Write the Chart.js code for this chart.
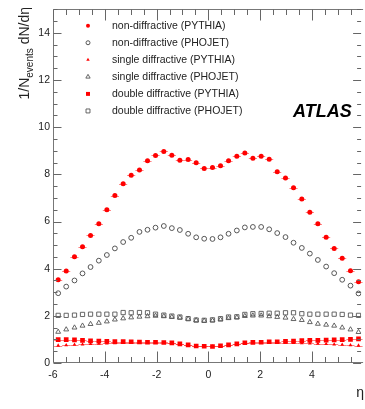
<!DOCTYPE html>
<html><head><meta charset="utf-8">
<script src="https://cdn.jsdelivr.net/npm/chart.js@4/dist/chart.umd.min.js"></script>
<style>html,body{margin:0;padding:0;background:#fff;}#wrap{width:365px;height:409px;}</style>
</head><body><div id="wrap"><canvas id="c" width="365" height="409"></canvas></div>
<script>
// ---- data ----
const eta = [-5.80,-5.49,-5.17,-4.86,-4.55,-4.23,-3.92,-3.61,-3.29,-2.98,-2.66,-2.35,-2.04,-1.72,-1.41,-1.10,-0.78,-0.47,-0.16,
              0.16,0.47,0.78,1.10,1.41,1.72,2.04,2.35,2.66,2.98,3.29,3.61,3.92,4.23,4.55,4.86,5.17,5.49,5.80];
const binHalfWidth = 0.157;
const ndPythia = [3.53,3.90,4.51,4.93,5.41,5.91,6.50,7.10,7.60,7.96,8.19,8.58,8.80,8.97,8.81,8.60,8.63,8.49,8.25,
                  8.29,8.36,8.58,8.77,8.91,8.68,8.77,8.64,8.11,7.85,7.43,6.96,6.39,5.91,5.33,4.86,4.44,3.91,3.45];
const ndPhojet = [2.96,3.24,3.50,3.80,4.07,4.34,4.58,4.86,5.13,5.31,5.56,5.65,5.74,5.81,5.72,5.64,5.48,5.33,5.27,
                  5.26,5.33,5.48,5.62,5.75,5.77,5.77,5.67,5.51,5.34,5.10,4.88,4.64,4.37,4.09,3.81,3.53,3.28,2.95];
const sdPythia = [0.74,0.76,0.78,0.79,0.81,0.82,0.83,0.84,0.85,0.86,0.86,0.86,0.86,0.85,0.83,0.80,0.76,0.72,0.70,
                  0.70,0.72,0.76,0.80,0.83,0.85,0.86,0.86,0.86,0.86,0.85,0.84,0.83,0.82,0.81,0.79,0.78,0.76,0.74];
const sdPhojet = [1.32,1.42,1.50,1.58,1.65,1.70,1.76,1.84,1.89,1.93,1.96,1.98,2.00,1.98,1.95,1.92,1.87,1.81,1.79,
                  1.80,1.84,1.90,1.93,1.99,2.01,2.01,1.98,1.95,1.92,1.86,1.82,1.73,1.66,1.62,1.58,1.50,1.42,1.31];
const ddPythia = [0.99,0.99,0.98,0.96,0.94,0.93,0.92,0.91,0.91,0.90,0.89,0.88,0.88,0.87,0.85,0.81,0.77,0.72,0.71,
                  0.70,0.73,0.77,0.81,0.86,0.875,0.88,0.90,0.90,0.92,0.93,0.95,0.96,0.96,0.97,0.98,0.99,1.00,1.02];
const ddPhojet = [2.02,2.02,2.03,2.06,2.07,2.07,2.07,2.07,2.14,2.13,2.14,2.13,2.07,2.03,1.99,1.95,1.88,1.82,1.81,
                  1.83,1.88,1.95,1.96,2.06,2.09,2.10,2.11,2.11,2.13,2.13,2.09,2.07,2.07,2.07,2.07,2.06,2.03,2.02];
const seriesNames = ['non-diffractive (PYTHIA)','non-diffractive (PHOJET)','single diffractive (PYTHIA)',
                     'single diffractive (PHOJET)','double diffractive (PYTHIA)','double diffractive (PHOJET)'];
const xTickLabels = [-6,-4,-2,0,2,4];
const yTickLabels = [0,2,4,6,8,10,12,14];
const xTitle = 'η';
const yTitleParts = ['1/N', 'events', ' dN/dη'];
const experiment = 'ATLAS';

// ---- styling ----
const FONT = "'Liberation Sans', Arial, Helvetica, sans-serif";
const RED = '#ff0000', GREY = '#555555';
const pts = arr => arr.map((v, i) => ({x: eta[i], y: v}));
const styles = [
  {pointStyle:'circle',   radius:2.5, legendRadius:2.0, fill:RED, stroke:RED, bw:0, xerr:true},
  {pointStyle:'circle',   radius:2.4, legendRadius:2.0, fill:'rgba(0,0,0,0)', stroke:GREY, bw:1, xerr:false},
  {pointStyle:'triangle', radius:2.2, legendRadius:2.0, fill:RED, stroke:RED, bw:0, xerr:true},
  {pointStyle:'triangle', radius:2.8, legendRadius:2.5, fill:'rgba(0,0,0,0)', stroke:GREY, bw:0.9, xerr:false},
  {pointStyle:'rect',     radius:3.3, legendRadius:2.8, fill:RED, stroke:RED, bw:0, xerr:true},
  {pointStyle:'rect',     radius:3.0, legendRadius:2.8, fill:'rgba(0,0,0,0)', stroke:GREY, bw:0.9, xerr:false},
];
const seriesData = [ndPythia, ndPhojet, sdPythia, sdPhojet, ddPythia, ddPhojet];
const datasets = seriesData.map((arr, k) => ({
  label: seriesNames[k], data: pts(arr), showLine: false,
  pointStyle: styles[k].pointStyle, pointRadius: styles[k].radius, pointHoverRadius: styles[k].radius,
  backgroundColor: styles[k].fill, borderColor: styles[k].stroke, pointBorderWidth: styles[k].bw,
  xerr: styles[k].xerr, order: 6 - k
}));

const decor = {
  id: 'decor',
  beforeDatasetsDraw(chart) {
    const {ctx, scales: {x, y}} = chart;
    ctx.save();
    ctx.strokeStyle = 'rgba(255,40,40,0.6)';
    ctx.lineWidth = 1;
    chart.data.datasets.forEach(ds => {
      if (!ds.xerr) return;
      ds.data.forEach(p => {
        const py = Math.round(y.getPixelForValue(p.y)) + 0.5;
        ctx.beginPath();
        ctx.moveTo(x.getPixelForValue(p.x - binHalfWidth), py);
        ctx.lineTo(x.getPixelForValue(p.x + binHalfWidth), py);
        ctx.stroke();
      });
    });
    ctx.restore();
  },
  afterDraw(chart) {
    const {ctx, chartArea: a, scales: {x, y}} = chart;
    ctx.save();
    // frame
    ctx.strokeStyle = '#777'; ctx.lineWidth = 1;
    const L = Math.round(a.left) + 0.5, B = Math.round(a.bottom) - 0.5, T = Math.round(a.top) + 0.5, R = Math.round(a.right) - 0.5;
    ctx.beginPath();
    ctx.moveTo(L, T); ctx.lineTo(L, B); ctx.lineTo(a.right + 2, B);
    ctx.moveTo(L, T); ctx.lineTo(a.right + 2, T);
    ctx.stroke();
    // ticks (inward)
    ctx.strokeStyle = '#666';
    ctx.beginPath();
    for (let v = x.min; v <= x.max + 1e-9; v += 0.5) {
      const px = Math.round(x.getPixelForValue(v)) + 0.5;
      const major = Math.abs(v % 2) < 1e-9;
      const len = major ? 11 : 5.5;
      ctx.moveTo(px, B); ctx.lineTo(px, B - len);
      ctx.moveTo(px, T); ctx.lineTo(px, T + len);
    }
    for (let v = y.min; v <= y.max + 1e-9; v += 0.5) {
      const py = Math.round(y.getPixelForValue(v)) + 0.5;
      const major = Math.abs(v % 2) < 1e-9;
      const len = major ? 8 : 4;
      ctx.moveTo(L, py); ctx.lineTo(L + len, py);
      ctx.moveTo(a.right, py); ctx.lineTo(a.right - len, py);
    }
    ctx.stroke();

    // legend
    const lx = 88, tx = 112, ly0 = 25.7, dy = 17.05;
    chart.data.datasets.forEach((ds, k) => {
      const yy = ly0 + k * dy;
      const st = styles[k];
      ctx.fillStyle = st.fill; ctx.strokeStyle = st.stroke; ctx.lineWidth = st.bw;
      Chart.helpers.drawPoint(ctx, {pointStyle: st.pointStyle, radius: st.legendRadius, borderWidth: st.bw, rotation: 0}, lx, yy);
      ctx.fillStyle = '#222';
      ctx.font = '10.5px ' + FONT;
      ctx.textAlign = 'left'; ctx.textBaseline = 'middle';
      ctx.fillText(ds.label, tx, yy);
    });

    // ATLAS
    ctx.fillStyle = '#000';
    ctx.font = 'italic bold 18px ' + FONT;
    ctx.textAlign = 'left'; ctx.textBaseline = 'middle';
    ctx.fillText(experiment, 293, 112);

    // x title
    ctx.fillStyle = '#222';
    ctx.font = '14px ' + FONT;
    ctx.textAlign = 'right'; ctx.textBaseline = 'alphabetic';
    ctx.fillText(xTitle, 364, 397);

    // y title (rotated, right-aligned to the top)
    const fMain = '14px ' + FONT, fSub = '10px ' + FONT;
    ctx.font = fMain; const w1 = ctx.measureText(yTitleParts[0]).width;
    ctx.font = fSub;  const w2 = ctx.measureText(yTitleParts[1]).width;
    ctx.font = fMain; const w3 = ctx.measureText(yTitleParts[2]).width;
    const W = w1 + w2 + w3;
    ctx.translate(29, 7 + W);
    ctx.rotate(-Math.PI / 2);
    ctx.textAlign = 'left'; ctx.textBaseline = 'alphabetic';
    ctx.font = fMain; ctx.fillText(yTitleParts[0], 0, 0);
    ctx.font = fSub;  ctx.fillText(yTitleParts[1], w1, 3.5);
    ctx.font = fMain; ctx.fillText(yTitleParts[2], w1 + w2, 0);
    ctx.restore();
  }
};

new Chart(document.getElementById('c'), {
  type: 'scatter',
  data: {datasets},
  options: {
    responsive: false, animation: false, devicePixelRatio: 1,
    layout: {padding: {left: 0, right: 0, top: 7, bottom: 0}},
    plugins: {legend: {display: false}, tooltip: {enabled: false}},
    scales: {
      x: {
        type: 'linear', position: 'bottom', min: -6, max: 5.9,
        grid: {display: false, drawTicks: false, tickLength: 0},
        border: {display: false},
        afterBuildTicks: s => { s.ticks = xTickLabels.map(v => ({value: v})); },
        afterFit: s => { s.height = 46; },
        ticks: {color: '#222', font: {family: FONT, size: 10.5}, padding: 6, maxRotation: 0, autoSkip: false,
                callback: v => String(v)}
      },
      y: {
        type: 'linear', position: 'left', min: 0, max: 15,
        grid: {display: false, drawTicks: false, tickLength: 0},
        border: {display: false},
        afterBuildTicks: s => { s.ticks = yTickLabels.map(v => ({value: v})); },
        afterFit: s => { s.width = 53; },
        ticks: {color: '#222', font: {family: FONT, size: 10.5}, padding: 3, autoSkip: false,
                callback: v => String(v)}
      }
    }
  },
  plugins: [decor]
});
</script>
</body></html>
